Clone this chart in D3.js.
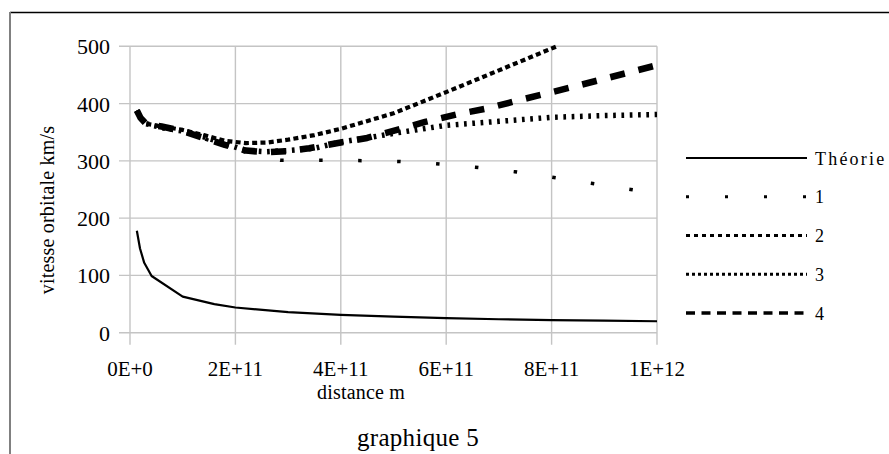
<!DOCTYPE html>
<html>
<head>
<meta charset="utf-8">
<script src="https://cdn.jsdelivr.net/npm/d3@7"></script>
<style>
  html, body { margin: 0; padding: 0; background: #fff; }
</style>
</head>
<body>
<svg id="chart" width="889" height="454" font-family="'Liberation Serif', 'Times New Roman', 'DejaVu Serif', serif"></svg>
<script>
// ---- data (distance m, vitesse km/s) ----
const xTicks = [0, 2e11, 4e11, 6e11, 8e11, 1e12];
const xTickLabels = ["0E+0", "2E+11", "4E+11", "6E+11", "8E+11", "1E+12"];
const yTicks = [0, 100, 200, 300, 400, 500];
const yTickLabels = ["0", "100", "200", "300", "400", "500"];
const seriesNames = ["Théorie", "1", "2", "3", "4"];

const theorie = [[1.3e10,178],[1.9e10,147],[2.7e10,122],[4.1e10,99],[1.0e11,63],[1.6e11,50],[2.0e11,44],[3.0e11,36],[4.0e11,31],[5.0e11,28],[6.0e11,25.5],[7.0e11,23.5],[8.0e11,22],[9.0e11,21],[1.0e12,20]];
const serie1 = [[1.3e10,388],[3e10,363],[1e11,350],[1.6e11,333],[2.2e11,315],[2.85e11,301],[3.6e11,301],[4.3e11,300.5],[5.1e11,299],[5.8e11,295],[6.55e11,289],[7.3e11,281],[8.0e11,271.5],[8.75e11,261],[9.5e11,250],[1.0e12,243]];
const serie2 = [[1.3e10,388],[2e10,375],[3e10,365],[6e10,360],[1e11,354],[1.4e11,345],[1.8e11,335],[2.2e11,331],[2.6e11,332],[3.0e11,337],[3.5e11,345],[4.0e11,356],[5.0e11,383],[6.0e11,420],[7.0e11,458],[8.1e11,500]];
const serie3 = [[1.3e10,388],[2e10,375],[3e10,365],[6e10,358],[1e11,352],[1.4e11,342],[1.8e11,330],[2.2e11,318],[2.6e11,316],[3.0e11,318],[3.5e11,322],[4.0e11,333],[4.5e11,340],[5.0e11,348],[6.0e11,362],[7.0e11,369],[8.0e11,376],[9.0e11,379],[1.0e12,381]];
const serie4 = [[1.3e10,388],[2e10,375],[3e10,365],[6e10,360],[1e11,352],[1.4e11,340],[1.8e11,328],[2.2e11,318],[2.6e11,315],[3.0e11,317],[3.4e11,322],[4.0e11,332],[4.5e11,340],[5.1e11,355],[5.6e11,368],[6.2e11,381],[6.8e11,392],[7.3e11,404],[8.4e11,429],[1.0e12,467]];

const allSeries = [theorie, serie1, serie2, serie3, serie4];

// ---- styles ----
const plotStyles = [
  { w: 2.2, dash: null },
  { w: 3.5, dash: "3.5,35.5" },
  { w: 4.2, dash: "5,3.3" },
  { w: 5.5, dash: "2.7,5.6" },
  { w: 6.5, dash: "15,14" }
];
const legendStyles = [
  { w: 2.2, dash: null },
  { w: 3, dash: "3,36" },
  { w: 3, dash: "4,4" },
  { w: 3, dash: "3,3" },
  { w: 3.5, dash: "9,6.5" }
];

const svg = d3.select("#chart");
const grid = "#c4c4c4";
const FONT = "'Liberation Serif', 'Times New Roman', 'DejaVu Serif', serif";

// frame
svg.append("line").attr("x1", 10).attr("x2", 889).attr("y1", 12.5).attr("y2", 12.5)
  .attr("stroke", "#000").attr("stroke-width", 1.5);
svg.append("line").attr("x1", 10).attr("x2", 10).attr("y1", 12).attr("y2", 454)
  .attr("stroke", "#808080").attr("stroke-width", 2);

const x = d3.scaleLinear().domain([0, 1e12]).range([130, 657]);
const y = d3.scaleLinear().domain([0, 500]).range([332.7, 46.3]);

// gridlines
svg.append("g").selectAll("line").data(xTicks).join("line")
  .attr("x1", d => x(d)).attr("x2", d => x(d))
  .attr("y1", y(500)).attr("y2", y(0) + 12)
  .attr("stroke", grid).attr("stroke-width", 1.4);
svg.append("g").selectAll("line").data(yTicks).join("line")
  .attr("x1", x(0) - 11).attr("x2", x(1e12))
  .attr("y1", d => y(d)).attr("y2", d => y(d))
  .attr("stroke", grid).attr("stroke-width", 1.4);

function txt(sel) { return sel.attr("font-family", FONT).attr("fill", "#000"); }

// tick labels
txt(svg.append("g").selectAll("text").data(yTicks).join("text"))
  .attr("x", 110).attr("y", d => y(d) + 8)
  .attr("text-anchor", "end").attr("font-size", 22)
  .text((d, i) => yTickLabels[i]);
txt(svg.append("g").selectAll("text").data(xTicks).join("text"))
  .attr("x", d => x(d)).attr("y", 376)
  .attr("text-anchor", "middle").attr("font-size", 21)
  .text((d, i) => xTickLabels[i]);

// axis titles
txt(svg.append("text")).attr("x", 361).attr("y", 399).attr("text-anchor", "middle")
  .attr("font-size", 20).attr("letter-spacing", 0.2).text("distance m");
txt(svg.append("text")).attr("transform", "translate(54,210) rotate(-90)")
  .attr("text-anchor", "middle").attr("font-size", 20).attr("letter-spacing", 0.2)
  .text("vitesse orbitale km/s");
txt(svg.append("text")).attr("x", 418).attr("y", 446).attr("text-anchor", "middle")
  .attr("font-size", 25).attr("letter-spacing", 0.3).text("graphique 5");

// series
const line = d3.line().x(d => x(d[0])).y(d => y(d[1])).curve(d3.curveLinear);
const drawOrder = [1, 4, 3, 2, 0];
drawOrder.forEach(i => {
  svg.append("path").datum(allSeries[i])
    .attr("d", line)
    .attr("fill", "none")
    .attr("stroke", "#000")
    .attr("stroke-width", plotStyles[i].w)
    .attr("stroke-dasharray", plotStyles[i].dash)
    .attr("stroke-linejoin", "round");
});

// legend
const legY = d3.scalePoint().domain(seriesNames).range([158, 313]);
const lg = svg.append("g");
seriesNames.forEach((n, i) => {
  lg.append("line").attr("x1", 686).attr("x2", 807)
    .attr("y1", legY(n)).attr("y2", legY(n))
    .attr("stroke", "#000").attr("stroke-width", legendStyles[i].w)
    .attr("stroke-dasharray", legendStyles[i].dash);
  txt(lg.append("text")).attr("x", 815).attr("y", legY(n) + 6.5)
    .attr("font-size", 18).attr("letter-spacing", i === 0 ? 2.2 : 0)
    .text(n);
});
</script>
</body>
</html>
